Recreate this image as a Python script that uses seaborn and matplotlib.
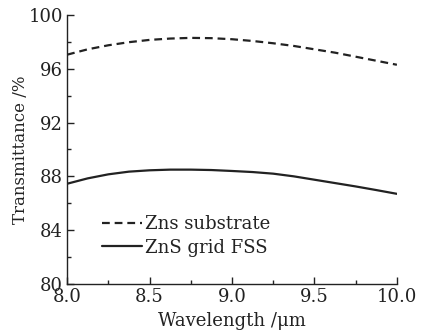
import matplotlib
matplotlib.use("Agg")
import matplotlib.pyplot as plt
import seaborn as sns
import pandas as pd
from matplotlib.ticker import MultipleLocator

# wavelength samples (um)
wavelength = [8.0, 8.125, 8.25, 8.375, 8.5, 8.625, 8.75, 8.875, 9.0,
              9.125, 9.25, 9.375, 9.5, 9.625, 9.75, 9.875, 10.0]
# transmittance (%)
substrate = [97.05, 97.45, 97.75, 97.98, 98.15, 98.25, 98.3, 98.28, 98.2,
             98.07, 97.9, 97.7, 97.45, 97.2, 96.9, 96.6, 96.3]
grid_fss = [87.45, 87.85, 88.15, 88.35, 88.45, 88.5, 88.5, 88.47, 88.4,
            88.32, 88.2, 88.0, 87.75, 87.5, 87.25, 86.98, 86.7]

labels = ["Zns substrate", "ZnS grid FSS"]

df = pd.concat([
    pd.DataFrame({"wl": wavelength, "T": substrate, "series": labels[0]}),
    pd.DataFrame({"wl": wavelength, "T": grid_fss, "series": labels[1]}),
])

sns.set_theme(style="ticks")
plt.rcParams["font.family"] = ["DejaVu Serif"]
plt.rcParams["mathtext.fontset"] = "dejavuserif"

fig = plt.figure(figsize=(4.30, 3.34), dpi=100)
ax = fig.add_axes([0.156, 0.150, 0.767, 0.805])

sns.lineplot(data=df, x="wl", y="T", hue="series", style="series",
             palette=["#222222", "#222222"],
             dashes=[(3.5, 2.2), ""], linewidth=1.6, ax=ax)

ax.set_xlim(8.0, 10.0)
ax.set_ylim(80, 100)
ax.xaxis.set_major_locator(MultipleLocator(0.5))
ax.xaxis.set_minor_locator(MultipleLocator(0.25))
ax.yaxis.set_major_locator(MultipleLocator(4))
ax.yaxis.set_minor_locator(MultipleLocator(2))
ax.tick_params(which="both", direction="in", labelsize=13, colors="#222222", pad=3)
ax.tick_params(which="major", length=5, width=1)
ax.tick_params(which="minor", length=3, width=1)
ax.xaxis.set_major_formatter(plt.FormatStrFormatter("%.1f"))

sns.despine(ax=ax)
for s in ["left", "bottom"]:
    ax.spines[s].set_linewidth(1)
    ax.spines[s].set_color("#222222")

ax.set_xlabel("Wavelength /\u03bcm", fontsize=13, color="#222222", labelpad=4)
ax.set_ylabel("Transmittance /%", fontsize=12, color="#222222")
ax.yaxis.set_label_coords(-0.115, 0.5)

leg = ax.legend(loc="lower left", bbox_to_anchor=(0.085, 0.075), frameon=False,
                fontsize=13, handlelength=2.2, handletextpad=0.15,
                labelspacing=0.3, borderaxespad=0)
for t in leg.get_texts():
    t.set_color("#222222")

fig.savefig("out.png", dpi=100, facecolor="white")
